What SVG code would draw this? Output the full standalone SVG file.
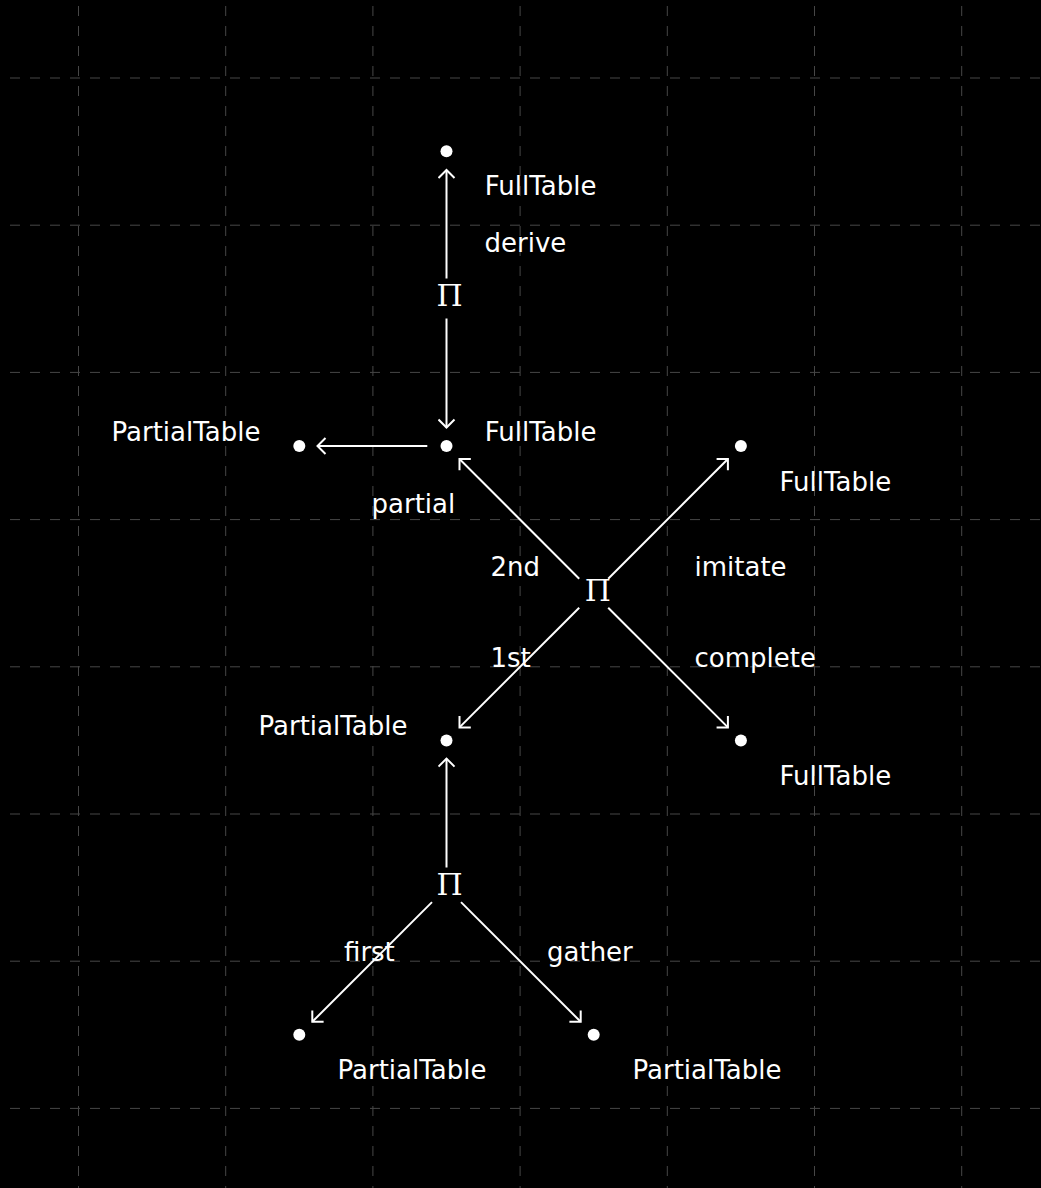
<svg xmlns="http://www.w3.org/2000/svg" width="1041" height="1188" viewBox="0 0 1041 1188">
<style>
.grid line{stroke:#474747;stroke-width:1;stroke-dasharray:10 10}
.gh{stroke-dashoffset:10}
.gv{stroke-dashoffset:14}
.lbl{font-family:"DejaVu Sans",sans-serif;font-size:26px;fill:#ffffff}
.pi{font-family:"DejaVu Serif",serif;font-size:30px;fill:#ffffff;text-anchor:middle}
.dot{fill:#ffffff}
.edge{stroke:#ffffff;stroke-width:2;fill:none;marker-end:url(#arr)}
</style>
<defs>
<marker id="arr" viewBox="-12 -9 14 18" markerWidth="14" markerHeight="18" refX="0" refY="0" orient="auto" markerUnits="userSpaceOnUse">
<polyline points="-8,-8 0,0 -8,8" fill="none" stroke="#ffffff" stroke-width="2"/>
</marker>
</defs>
<rect width="1041" height="1188" fill="#000000"/>
<g class="grid">
<line class="gv" x1="78.5" y1="0" x2="78.5" y2="1188"/>
<line class="gv" x1="225.7" y1="0" x2="225.7" y2="1188"/>
<line class="gv" x1="372.9" y1="0" x2="372.9" y2="1188"/>
<line class="gv" x1="520.1" y1="0" x2="520.1" y2="1188"/>
<line class="gv" x1="667.3" y1="0" x2="667.3" y2="1188"/>
<line class="gv" x1="814.5" y1="0" x2="814.5" y2="1188"/>
<line class="gv" x1="961.7" y1="0" x2="961.7" y2="1188"/>
<line class="gh" x1="0" y1="78" x2="1041" y2="78"/>
<line class="gh" x1="0" y1="225.2" x2="1041" y2="225.2"/>
<line class="gh" x1="0" y1="372.4" x2="1041" y2="372.4"/>
<line class="gh" x1="0" y1="519.6" x2="1041" y2="519.6"/>
<line class="gh" x1="0" y1="666.8" x2="1041" y2="666.8"/>
<line class="gh" x1="0" y1="814" x2="1041" y2="814"/>
<line class="gh" x1="0" y1="961.2" x2="1041" y2="961.2"/>
<line class="gh" x1="0" y1="1108.4" x2="1041" y2="1108.4"/>
</g>
<g id="connectors">
<line class="edge" x1="446.5" y1="278.5" x2="446.5" y2="170"/>
<line class="edge" x1="446.5" y1="318.5" x2="446.5" y2="427.5"/>
<line class="edge" x1="427.3" y1="446" x2="317.5" y2="446"/>
<line class="edge" x1="579.2" y1="578.7" x2="459.5" y2="459"/>
<line class="edge" x1="608.2" y1="578.7" x2="727.9" y2="459"/>
<line class="edge" x1="579.2" y1="607.7" x2="459.5" y2="727.4"/>
<line class="edge" x1="608.2" y1="607.7" x2="727.9" y2="727.4"/>
<line class="edge" x1="446.5" y1="867.5" x2="446.5" y2="758.6"/>
<line class="edge" x1="432" y1="902.1" x2="312.3" y2="1021.8"/>
<line class="edge" x1="461" y1="902.1" x2="580.7" y2="1021.8"/>
</g>
<g id="n-full-top"><circle class="dot" cx="446.5" cy="151.2" r="6"/><text class="lbl" x="484.8" y="195">FullTable</text></g>
<g id="n-pi-top"><text class="pi" x="449.7" y="306">Π</text></g>
<g id="n-full-mid"><circle class="dot" cx="446.5" cy="446" r="6"/><text class="lbl" x="484.8" y="440.7">FullTable</text></g>
<g id="n-partial-left"><circle class="dot" cx="299.3" cy="446" r="6"/><text class="lbl" x="111.5" y="440.7">PartialTable</text></g>
<g id="n-pi-mid"><text class="pi" x="597.8" y="601">Π</text></g>
<g id="n-full-right-top"><circle class="dot" cx="740.9" cy="446" r="6"/><text class="lbl" x="779.5" y="490.5">FullTable</text></g>
<g id="n-full-right-bottom"><circle class="dot" cx="740.9" cy="740.4" r="6"/><text class="lbl" x="779.5" y="784.5">FullTable</text></g>
<g id="n-partial-mid"><circle class="dot" cx="446.5" cy="740.4" r="6"/><text class="lbl" x="258.5" y="734.5">PartialTable</text></g>
<g id="n-pi-bottom"><text class="pi" x="449.7" y="895">Π</text></g>
<g id="n-partial-bl"><circle class="dot" cx="299.3" cy="1034.8" r="6"/><text class="lbl" x="337.5" y="1079.3">PartialTable</text></g>
<g id="n-partial-br"><circle class="dot" cx="593.7" cy="1034.8" r="6"/><text class="lbl" x="632.5" y="1079.3">PartialTable</text></g>
<g id="edge-labels">
<text class="lbl" x="484.5" y="252">derive</text>
<text class="lbl" x="371.5" y="513">partial</text>
<text class="lbl" x="490.5" y="575.5">2nd</text>
<text class="lbl" x="694.5" y="575.5">imitate</text>
<text class="lbl" x="490.5" y="666.5">1st</text>
<text class="lbl" x="694.5" y="666.5">complete</text>
<text class="lbl" x="344" y="961">first</text>
<text class="lbl" x="547" y="961">gather</text>
</g>
</svg>
